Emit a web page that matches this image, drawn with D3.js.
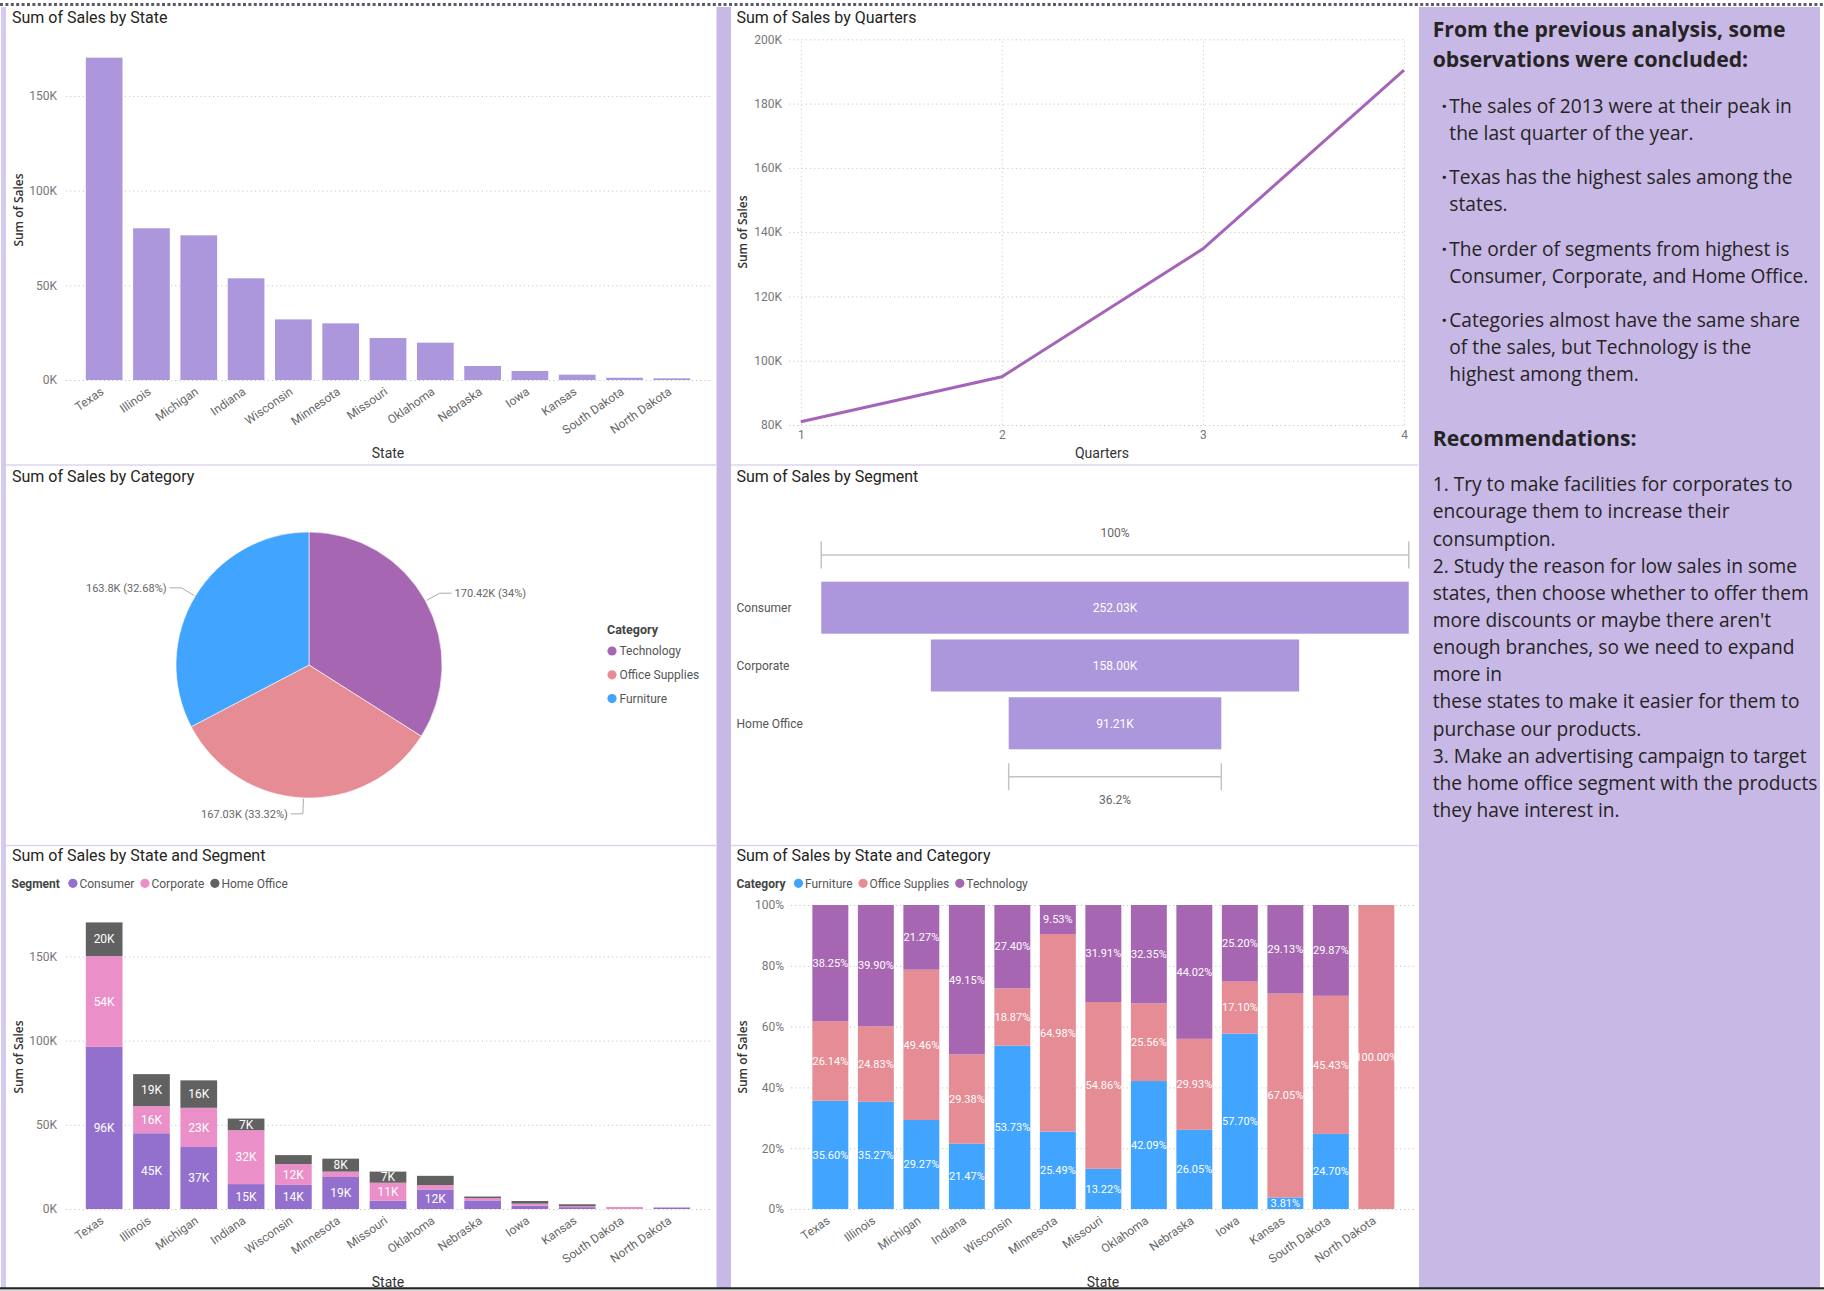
<!DOCTYPE html>
<html>
<head>
<meta charset="utf-8">
<script src="https://cdn.jsdelivr.net/npm/d3@7"></script>
<style>
  body { margin: 0; background: #fff; }
  svg { display: block; }
</style>
</head>
<body>
<svg id="dash" width="1824" height="1291"></svg>
<script>
// ---------------- data ----------------
const states = ['Texas', 'Illinois', 'Michigan', 'Indiana', 'Wisconsin', 'Minnesota', 'Missouri',
  'Oklahoma', 'Nebraska', 'Iowa', 'Kansas', 'South Dakota', 'North Dakota']
const stateSales = [170200, 80100, 76400, 53700, 32000, 29900, 22200, 19700, 7400, 4750, 2800, 1200, 900]

const quarters = [1, 2, 3, 4]
const quarterSales = [81000, 95000, 134800, 190400]

const categories = ['Technology', 'Office Supplies', 'Furniture']
const categorySales = [170420, 167030, 163800]
const categoryLabels = ['170.42K (34%)', '167.03K (33.32%)', '163.8K (32.68%)']

const segments = ['Consumer', 'Corporate', 'Home Office']
const segmentSales = [252030, 158000, 91210]

const consumerSales = [96300, 45000, 36800, 14800, 14300, 19000, 4900, 11600, 5100, 2000, 1100, 0, 900]
const corporateSales = [53900, 16100, 23300, 32000, 12400, 3200, 10700, 2600, 1400, 1200, 600, 1200, 0]
const homeOfficeSales = [20000, 19000, 16300, 6900, 5300, 7700, 6600, 5500, 900, 1550, 1100, 0, 0]

// percent of each state's sales
const furniturePct = [35.60, 35.27, 29.27, 21.47, 53.73, 25.49, 13.22, 42.09, 26.05, 57.70, 3.81, 24.70, 0]
const officePct = [26.14, 24.83, 49.46, 29.38, 18.87, 64.98, 54.86, 25.56, 29.93, 17.10, 67.05, 45.43, 100.00]
const techPct = [38.25, 39.90, 21.27, 49.15, 27.40, 9.53, 31.91, 32.35, 44.02, 25.20, 29.13, 29.87, 0]

const observations = [
  ['The sales of 2013 were at their peak in', 'the last quarter of the year.'],
  ['Texas has the highest sales among the', 'states.'],
  ['The order of segments from highest is', 'Consumer, Corporate, and Home Office.'],
  ['Categories almost have the same share', 'of the sales, but Technology is the', 'highest among them.']
]
const recommendations = [
  '1. Try to make facilities for corporates to',
  'encourage them to increase their',
  'consumption.',
  '2. Study the reason for low sales in some',
  'states, then choose whether to offer them',
  "more discounts or maybe there aren't",
  'enough branches, so we need to expand',
  'more in',
  'these states to make it easier for them to',
  'purchase our products.',
  '3. Make an advertising campaign to target',
  'the home office segment with the products',
  'they have interest in.'
]

// ---------------- styles ----------------
const DIN = 'Roboto, "DejaVu Sans", sans-serif'
const SEGOE = '"Open Sans", "Noto Sans", sans-serif'
const lavender = '#c8b8e6'
const barPurple = '#ac96dc'
const catColor = d3.scaleOrdinal(categories, ['#a666b1', '#e68c94', '#41a4ff'])
const segColor = d3.scaleOrdinal(segments, ['#9370cd', '#eb8fc9', '#616161'])

const svg = d3.select('#dash')

// ---------------- page frame ----------------
svg.append('rect').attr('width', 1824).attr('height', 1291).attr('fill', '#fff')
svg.append('rect').attr('x', 1).attr('y', 7).attr('width', 5).attr('height', 1281).attr('fill', '#d6cbef')
svg.append('rect').attr('x', 716.5).attr('y', 7).attr('width', 14.5).attr('height', 1281).attr('fill', lavender)
svg.append('rect').attr('x', 1419).attr('y', 7).attr('width', 401).attr('height', 1281).attr('fill', lavender)
svg.append('line').attr('x1', 0).attr('x2', 1824).attr('y1', 4.5).attr('y2', 4.5)
  .attr('stroke', '#5d5b6b').attr('stroke-width', 3).attr('stroke-dasharray', '3 2.4')
svg.append('rect').attr('x', 0).attr('y', 1289).attr('width', 1824).attr('height', 2).attr('fill', '#d4d4d4')
svg.append('line').attr('x1', 0).attr('x2', 1824).attr('y1', 1288.3).attr('y2', 1288.3)
  .attr('stroke', '#222').attr('stroke-width', 2)
;[[6, 716], [731, 1418]].forEach(([a, b]) => {
  ;[465, 845.5].forEach(yy => {
    svg.append('line').attr('x1', a).attr('x2', b).attr('y1', yy).attr('y2', yy)
      .attr('stroke', '#ddd4f0').attr('stroke-width', 1.5)
  })
})

// ---------------- helpers ----------------
const title = (x, y, txt) => svg.append('text').attr('x', x).attr('y', y + 6)
  .attr('font-family', DIN).attr('font-size', 16).attr('fill', '#252423').text(txt)

const axisTitle = (x, y, txt, rotate) => {
  const t = svg.append('text').attr('text-anchor', 'middle').attr('font-family', rotate ? SEGOE : DIN)
    .attr('font-size', rotate ? 12 : 14).attr('fill', '#333').attr('font-weight', rotate ? 600 : 400)
    .attr('dy', '0.35em').text(txt)
  if (rotate) t.attr('transform', `translate(${x},${y}) rotate(-90)`)
  else t.attr('x', x).attr('y', y)
}

const gridY = (g, scale, ticks, fmt, width, pad) => {
  g.call(d3.axisLeft(scale).tickValues(ticks).tickFormat(fmt).tickSize(-width).tickPadding(pad))
  g.select('.domain').remove()
  g.selectAll('.tick line').attr('stroke', '#c6c6c6').attr('stroke-dasharray', '1.2 3')
  g.selectAll('.tick text').attr('fill', '#777').attr('font-family', DIN).attr('font-size', 12)
}

const rotatedX = (g, scale) => {
  g.call(d3.axisBottom(scale).tickSize(0).tickPadding(0))
  g.select('.domain').remove()
  g.selectAll('.tick text').attr('text-anchor', 'end').attr('y', 0).attr('dy', '0.35em')
    .attr('transform', 'translate(-2,10) rotate(-35)')
    .attr('fill', '#666').attr('font-family', DIN).attr('font-size', 12)
}

const kFmt = d => d / 1000 + 'K'

const legendRow = (x, y, head, items, color) => {
  const g = svg.append('g').attr('font-family', DIN).attr('font-size', 12)
  const h = g.append('text').attr('x', x).attr('y', y).attr('dy', '0.35em')
    .attr('font-weight', 700).attr('fill', '#444').text(head)
  let cx = x + h.node().getComputedTextLength() + 13
  items.forEach(it => {
    g.append('circle').attr('cx', cx).attr('cy', y).attr('r', 4.6).attr('fill', color(it))
    const t = g.append('text').attr('x', cx + 6.5).attr('y', y).attr('dy', '0.35em').attr('fill', '#555').text(it)
    cx += 6.5 + t.node().getComputedTextLength() + 10.5
  })
}

// ---------------- 1. Sum of Sales by State ----------------
title(12, 17, 'Sum of Sales by State')
const x1 = d3.scaleBand(states, [80.5, 695.5]).paddingInner(0.224).paddingOuter(0.112)
const y1 = d3.scaleLinear([0, 180000], [380, 39.1])
gridY(svg.append('g').attr('transform', 'translate(66,0)'), y1, [0, 50000, 100000, 150000], kFmt, 645, 9)
svg.append('g').selectAll('rect').data(states).join('rect')
  .attr('x', d => x1(d)).attr('width', x1.bandwidth())
  .attr('y', (d, i) => y1(stateSales[i])).attr('height', (d, i) => y1(0) - y1(stateSales[i]))
  .attr('fill', barPurple)
rotatedX(svg.append('g').attr('transform', 'translate(0,380)'), x1)
axisTitle(388, 453, 'State')
axisTitle(19, 210, 'Sum of Sales', true)

// ---------------- 2. Sum of Sales by Quarters ----------------
title(736.5, 17, 'Sum of Sales by Quarters')
const x2 = d3.scalePoint(quarters, [800.8, 1404])
const y2 = d3.scaleLinear([80000, 200000], [425, 39.3])
gridY(svg.append('g').attr('transform', 'translate(789,0)'), y2, d3.range(80000, 200001, 20000), kFmt, 617, 7)
const gx2 = svg.append('g').attr('transform', 'translate(0,425)')
gx2.call(d3.axisBottom(x2).tickSize(-(425 - 39.3)).tickPadding(5))
gx2.select('.domain').remove()
gx2.selectAll('.tick line').attr('stroke', '#d0d0d0').attr('stroke-dasharray', '1.2 3')
gx2.selectAll('.tick text').attr('fill', '#777').attr('font-family', DIN).attr('font-size', 12)
svg.append('path')
  .attr('d', d3.line().x((d, i) => x2(d)).y((d, i) => y2(quarterSales[i]))(quarters))
  .attr('fill', 'none').attr('stroke', '#a564b8').attr('stroke-width', 3)
axisTitle(1102, 453, 'Quarters')
axisTitle(743, 232, 'Sum of Sales', true)

// ---------------- 3. Sum of Sales by Category (pie) ----------------
title(12, 476, 'Sum of Sales by Category')
const pieC = [309, 665], R = 133
const pieData = d3.pie().sort(null).value(d => d.v)(categories.map((c, i) => ({ c, v: categorySales[i], l: categoryLabels[i] })))
const pieG = svg.append('g').attr('transform', `translate(${pieC})`)
pieG.selectAll('path').data(pieData).join('path')
  .attr('d', d3.arc().innerRadius(0).outerRadius(R))
  .attr('fill', d => catColor(d.data.c))
  .attr('stroke', '#fff').attr('stroke-width', 0.6)
const polar = (r, a) => [r * Math.sin(a), -r * Math.cos(a)]
pieData.forEach(d => {
  const mid = (d.startAngle + d.endAngle) / 2
  const side = mid < Math.PI ? 1 : -1
  const p1 = polar(R + 1, mid), p2 = polar(R + 16, mid)
  const p3 = [p2[0] + side * 12, p2[1]]
  pieG.append('polyline').attr('points', [p1, p2, p3].map(p => p.join(',')).join(' '))
    .attr('fill', 'none').attr('stroke', '#aaa').attr('stroke-width', 1)
  pieG.append('text').attr('x', p3[0] + side * 3).attr('y', p3[1]).attr('dy', '0.35em')
    .attr('text-anchor', side > 0 ? 'start' : 'end')
    .attr('font-family', DIN).attr('font-size', 11).attr('fill', '#666').text(d.data.l)
})
const pl = svg.append('g').attr('font-family', DIN)
pl.append('text').attr('x', 607).attr('y', 630).attr('dy', '0.35em').attr('font-size', 12.5)
  .attr('font-weight', 700).attr('fill', '#444').text('Category')
categories.forEach((c, i) => {
  const yy = 651 + i * 23.8
  pl.append('circle').attr('cx', 612).attr('cy', yy).attr('r', 4.6).attr('fill', catColor(c))
  pl.append('text').attr('x', 619.5).attr('y', yy).attr('dy', '0.35em').attr('font-size', 12)
    .attr('fill', '#555').text(c)
})

// ---------------- 4. Sum of Sales by Segment (funnel) ----------------
title(736.5, 476, 'Sum of Sales by Segment')
const fCx = 1115
const wF = d3.scaleLinear([0, segmentSales[0]], [0, 587.5])
const yF = d3.scaleBand(segments, [578.8, 752.2]).paddingInner(0.1).paddingOuter(0.05)
const fG = svg.append('g')
fG.selectAll('rect').data(segments).join('rect')
  .attr('x', (d, i) => fCx - wF(segmentSales[i]) / 2).attr('width', (d, i) => wF(segmentSales[i]))
  .attr('y', d => yF(d)).attr('height', yF.bandwidth()).attr('fill', barPurple)
fG.selectAll('text.v').data(segments).join('text').attr('class', 'v')
  .attr('x', fCx).attr('y', d => yF(d) + yF.bandwidth() / 2).attr('dy', '0.35em')
  .attr('text-anchor', 'middle').attr('font-family', DIN).attr('font-size', 12).attr('fill', '#fff')
  .text((d, i) => d3.format('.2f')(segmentSales[i] / 1000) + 'K')
fG.selectAll('text.c').data(segments).join('text').attr('class', 'c')
  .attr('x', 736.5).attr('y', d => yF(d) + yF.bandwidth() / 2).attr('dy', '0.35em')
  .attr('font-family', DIN).attr('font-size', 12).attr('fill', '#555').text(d => d)
const bracket = (w, yy, ly, txt) => {
  const a = fCx - w / 2, b = fCx + w / 2
  fG.append('path').attr('d', `M${a},${yy - 13.5}V${yy + 13.5}M${a},${yy}H${b}M${b},${yy - 13.5}V${yy + 13.5}`)
    .attr('fill', 'none').attr('stroke', '#c4c4c4').attr('stroke-width', 1.5)
  fG.append('text').attr('x', fCx).attr('y', ly).attr('dy', '0.35em').attr('text-anchor', 'middle')
    .attr('font-family', DIN).attr('font-size', 12).attr('fill', '#666').text(txt)
}
const last = segmentSales[segmentSales.length - 1]
bracket(wF(segmentSales[0]), 555, 533, '100%')
bracket(wF(last), 776.7, 800, d3.format('.1%')(last / segmentSales[0]))

// ---------------- 5. Sum of Sales by State and Segment ----------------
title(12, 855, 'Sum of Sales by State and Segment')
legendRow(11.5, 883.3, 'Segment', segments, segColor)
const y5 = d3.scaleLinear([0, 180000], [1209, 905.9])
gridY(svg.append('g').attr('transform', 'translate(66,0)'), y5, [0, 50000, 100000, 150000], kFmt, 645, 9)
const segRows = states.map((s, i) => ({ state: s, Consumer: consumerSales[i], Corporate: corporateSales[i], 'Home Office': homeOfficeSales[i] }))
const segStack = d3.stack().keys(segments)(segRows)
const g5 = svg.append('g')
segStack.forEach(layer => {
  g5.append('g').attr('fill', segColor(layer.key)).selectAll('rect').data(layer).join('rect')
    .attr('x', d => x1(d.data.state)).attr('width', x1.bandwidth())
    .attr('y', d => y5(d[1])).attr('height', d => y5(d[0]) - y5(d[1]))
  g5.append('g').selectAll('text').data(layer.filter(d => d[1] - d[0] >= 6000)).join('text')
    .attr('x', d => x1(d.data.state) + x1.bandwidth() / 2).attr('y', d => y5((d[0] + d[1]) / 2))
    .attr('dy', '0.35em').attr('text-anchor', 'middle').attr('font-family', DIN).attr('font-size', 12)
    .attr('fill', '#fff').text(d => Math.round((d[1] - d[0]) / 1000) + 'K')
})
rotatedX(svg.append('g').attr('transform', 'translate(0,1209)'), x1)
axisTitle(388, 1282, 'State')
axisTitle(19, 1057, 'Sum of Sales', true)

// ---------------- 6. Sum of Sales by State and Category ----------------
title(736.5, 855, 'Sum of Sales by State and Category')
const catOrder = ['Furniture', 'Office Supplies', 'Technology']
legendRow(736.5, 883.3, 'Category', catOrder, catColor)
const x6 = d3.scaleBand(states, [807.6, 1399.1]).paddingInner(0.21).paddingOuter(0.105)
const y6 = d3.scaleLinear([0, 100], [1209, 905])
gridY(svg.append('g').attr('transform', 'translate(791,0)'), y6, d3.range(0, 101, 20), d => d + '%', 624, 7)
const catRows = states.map((s, i) => ({ state: s, Furniture: furniturePct[i], 'Office Supplies': officePct[i], Technology: techPct[i] }))
const catStack = d3.stack().keys(catOrder)(catRows)
const g6 = svg.append('g')
catStack.forEach(layer => {
  g6.append('g').attr('fill', catColor(layer.key)).selectAll('rect').data(layer).join('rect')
    .attr('x', d => x6(d.data.state)).attr('width', x6.bandwidth())
    .attr('y', d => y6(d[1])).attr('height', d => y6(d[0]) - y6(d[1]))
})
catStack.forEach(layer => {
  g6.append('g').selectAll('text').data(layer.filter(d => d[1] - d[0] > 0)).join('text')
    .attr('x', d => x6(d.data.state) + x6.bandwidth() / 2).attr('y', d => y6((d[0] + d[1]) / 2))
    .attr('dy', '0.35em').attr('text-anchor', 'middle').attr('font-family', DIN).attr('font-size', 11)
    .attr('fill', '#fff').text(d => (d[1] - d[0]).toFixed(2) + '%')
})
rotatedX(svg.append('g').attr('transform', 'translate(0,1209)'), x6)
axisTitle(1103, 1282, 'State')
axisTitle(743, 1057, 'Sum of Sales', true)

// ---------------- text panel ----------------
const tp = svg.append('g').attr('font-family', SEGOE).attr('fill', '#252423')
// fit font sizes to the measured line widths of the original
const fitSize = (txt, weight, target, base) => {
  const t = tp.append('text').attr('font-size', base).attr('font-weight', weight).text(txt)
  const w = t.node().getComputedTextLength()
  t.remove()
  return base * target / w
}
const headSize = fitSize('From the previous analysis, some', 700, 353, 20)
const bodySize = fitSize('the home office segment with the products', 400, 385, 17)
const head = (txt, cy) => tp.append('text').attr('x', 1432.7).attr('y', cy).attr('dy', '0.36em')
  .attr('font-size', headSize).attr('font-weight', 700).text(txt)
head('From the previous analysis, some', 29.3)
head('observations were concluded:', 59.3)
let cy = 106
observations.forEach(group => {
  tp.append('text').attr('x', 1441.5).attr('y', cy).attr('dy', '0.36em').attr('font-size', bodySize)
    .attr('font-weight', 700).text('·')
  group.forEach(line => {
    tp.append('text').attr('x', 1449.3).attr('y', cy).attr('dy', '0.36em').attr('font-size', bodySize).text(line)
    cy += 27.15
  })
  cy += 17
})
head('Recommendations:', 438.3)
recommendations.forEach((line, i) => {
  tp.append('text').attr('x', 1432.7).attr('y', 484.3 + i * 27.15).attr('dy', '0.36em')
    .attr('font-size', bodySize).text(line)
})
</script>
</body>
</html>
